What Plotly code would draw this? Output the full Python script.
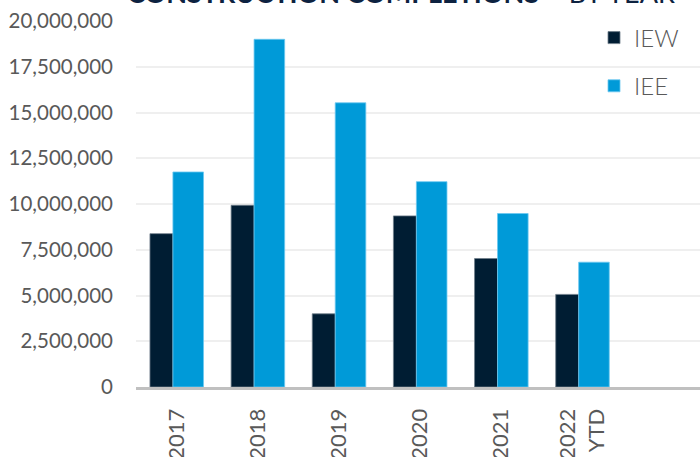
import plotly.graph_objects as go

categories = ["2017", "2018", "2019", "2020", "2021", "2022<br>YTD"]
iew = [8380000, 9930000, 4000000, 9350000, 7020000, 5060000]
iee = [11750000, 19000000, 15530000, 11220000, 9480000, 6820000]
y_ticks = [0, 2500000, 5000000, 7500000, 10000000, 12500000, 15000000, 17500000, 20000000]
y_tick_labels = ["0", "2,500,000", "5,000,000", "7,500,000", "10,000,000",
                 "12,500,000", "15,000,000", "17,500,000", "20,000,000"]

FONT = "Lato"
GREY = "#595959"

fig = go.Figure()
fig.add_trace(go.Bar(
    x=categories, y=iew, name="IEW", legendgroup="a",
    marker=dict(color="#001D33", line=dict(color="#6f7d8a", width=0.8)),
    width=0.283, offset=-0.328,
))
fig.add_trace(go.Bar(
    x=categories, y=iee, name="IEE", legendgroup="b",
    marker=dict(color="#009AD8", line=dict(color="#6cc8f0", width=0.8)),
    width=0.377, offset=-0.045,
))

fig.update_layout(
    width=700, height=457,
    margin=dict(l=136, r=0, t=21, b=70, autoexpand=False),
    paper_bgcolor="white", plot_bgcolor="white",
    font=dict(family=FONT, color=GREY, size=20),
    showlegend=True,
    legend=dict(
        x=(594 - 136) / 564, xref="paper", xanchor="left",
        y=1.015, yref="paper", yanchor="top",
        bgcolor="rgba(0,0,0,0)",
        font=dict(family=FONT, size=24, color=GREY, weight=300),
        tracegroupgap=14,
    ),
    xaxis=dict(
        type="category", range=[-0.5, 6.45], automargin=False,
        tickangle=-90, tickfont=dict(family=FONT, size=22, color=GREY),
        showgrid=False, showline=True, linecolor="#c0c0c0", linewidth=3,
        ticks="", ticklabelstandoff=10,
    ),
    yaxis=dict(
        range=[0, 20000000], tickvals=y_ticks, ticktext=y_tick_labels,
        automargin=False,
        tickfont=dict(family=FONT, size=20.5, color=GREY),
        showgrid=True, gridcolor="#efefef", gridwidth=1.5,
        zeroline=False, showline=False, ticks="", ticklabelstandoff=22,
    ),
    annotations=[dict(
        xref="paper", yref="paper", x=(125 - 136) / 564, y=1 + (21 - 11) / 366,
        xanchor="left", yanchor="bottom", showarrow=False,
        text="<b>CONSTRUCTION COMPLETIONS</b> – BY YEAR",
        font=dict(family=FONT, size=27, color="#0D2240"),
    )],
)

fig.write_html("out.html")
